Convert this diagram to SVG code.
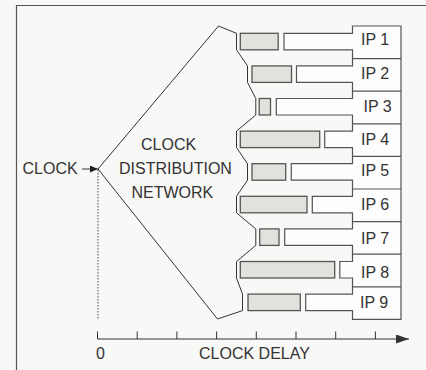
<svg xmlns="http://www.w3.org/2000/svg" width="426" height="370" viewBox="0 0 426 370">
<style>
text{font-family:"Liberation Sans",Arial,sans-serif;font-size:16px;fill:#333}
.bar{fill:#e2e1dd;stroke:#555;stroke-width:1.3}
.ln{fill:none;stroke:#555;stroke-width:1.2}
.fn{fill:none;stroke:#333;stroke-width:1}
</style>
<defs>
<marker id="ah" viewBox="0 0 10 10" refX="10" refY="5" markerWidth="8" markerHeight="7" markerUnits="userSpaceOnUse" orient="auto" preserveAspectRatio="none"><path d="M0,0 L10,5 L0,10 Z" fill="#222"/></marker>
<marker id="ah2" viewBox="0 0 10 10" refX="10" refY="5" markerWidth="13" markerHeight="9" markerUnits="userSpaceOnUse" orient="auto" preserveAspectRatio="none"><path d="M0,0 L10,5 L0,10 Z" fill="#333"/></marker>
</defs>
<rect width="426" height="370" fill="#f8f8f7"/>
<path d="M16.5,370 V5.5 H426" fill="none" stroke="#555" stroke-width="1.2"/>

<g id="network">
<polygon class="fn" points="98,169 218.5,26 236.5,33.3 236.5,49.8 247.5,65.9 247.5,82.4 255.8,98.5 255.8,115 236.5,131.1 236.5,147.6 247.5,163.7 247.5,180.2 236.5,196.3 236.5,212.8 255.8,228.9 255.8,245.4 236.5,261.5 236.5,278 242.5,294.1 242.5,310.6 217.5,319 98,169"/>
<text x="141" y="150">CLOCK</text>
<text x="119" y="174">DISTRIBUTION</text>
<text x="131.5" y="197.5">NETWORK</text>
</g>

<g id="ips">
<path class="ln" style="fill:#fdfdfd" d="M401,26 H352.5 V33.3 H284 V49.8 H352.5 V65.9 H296.5 V82.4 H352.5 V98.5 H276.3 V115 H352.5 V131.1 H324.7 V147.6 H352.5 V163.7 H291.3 V180.2 H352.5 V196.3 H312.3 V212.8 H352.5 V228.9 H284.7 V245.4 H352.5 V261.5 H339.8 V278 H352.5 V294.1 H305.7 V310.6 H352.5 V319.4 H401 Z"/>
<path class="ln" d="M352.5,58.6 H401 M352.5,91.2 H401 M352.5,123.8 H401 M352.5,156.4 H401 M352.5,189 H401 M352.5,221.6 H401 M352.5,254.2 H401 M352.5,286.8 H401"/>
</g>
<g id="ip1"><rect class="bar" x="240.3" y="33.3" width="37.9" height="16.5"/><text x="361" y="45">IP 1</text></g>
<g id="ip2"><rect class="bar" x="252" y="65.9" width="39.5" height="16.5"/><text x="361" y="78.5">IP 2</text></g>
<g id="ip3"><rect class="bar" x="259.2" y="98.5" width="11.3" height="16.5"/><text x="363.5" y="111.5">IP 3</text></g>
<g id="ip4"><rect class="bar" x="240.3" y="131.1" width="79.4" height="16.5"/><text x="361" y="144.5">IP 4</text></g>
<g id="ip5"><rect class="bar" x="252" y="163.7" width="33.7" height="16.5"/><text x="361" y="176">IP 5</text></g>
<g id="ip6"><rect class="bar" x="240.3" y="196.3" width="66.7" height="16.5"/><text x="361" y="209.5">IP 6</text></g>
<g id="ip7"><rect class="bar" x="259.7" y="228.9" width="19.3" height="16.5"/><text x="361" y="243.5">IP 7</text></g>
<g id="ip8"><rect class="bar" x="240.3" y="261.5" width="94.4" height="16.5"/><text x="361" y="278">IP 8</text></g>
<g id="ip9"><rect class="bar" x="248" y="294.1" width="52.3" height="16.5"/><text x="360" y="308">IP 9</text></g>

<g id="clock"><text x="22.5" y="174">CLOCK</text></g>

<g id="connectors">
<line x1="82" y1="169" x2="98" y2="169" stroke="#333" stroke-width="1" marker-end="url(#ah)"/>
<line x1="98" y1="170" x2="98" y2="320" stroke="#444" stroke-width="1" stroke-dasharray="1.5,1.5"/>
</g>

<g id="axis">
<line x1="97.5" y1="339" x2="409" y2="339" stroke="#333" stroke-width="1" marker-end="url(#ah2)"/>
<path d="M97.5,331.5 V339 M137.2,331.5 V339 M176.9,331.5 V339 M216.6,331.5 V339 M256.3,331.5 V339 M296,331.5 V339 M335.7,331.5 V339 M375.4,331.5 V339" stroke="#333" stroke-width="1" fill="none"/>
<text x="96" y="358.5">0</text>
<text x="199" y="358.5">CLOCK DELAY</text>
</g>
</svg>
